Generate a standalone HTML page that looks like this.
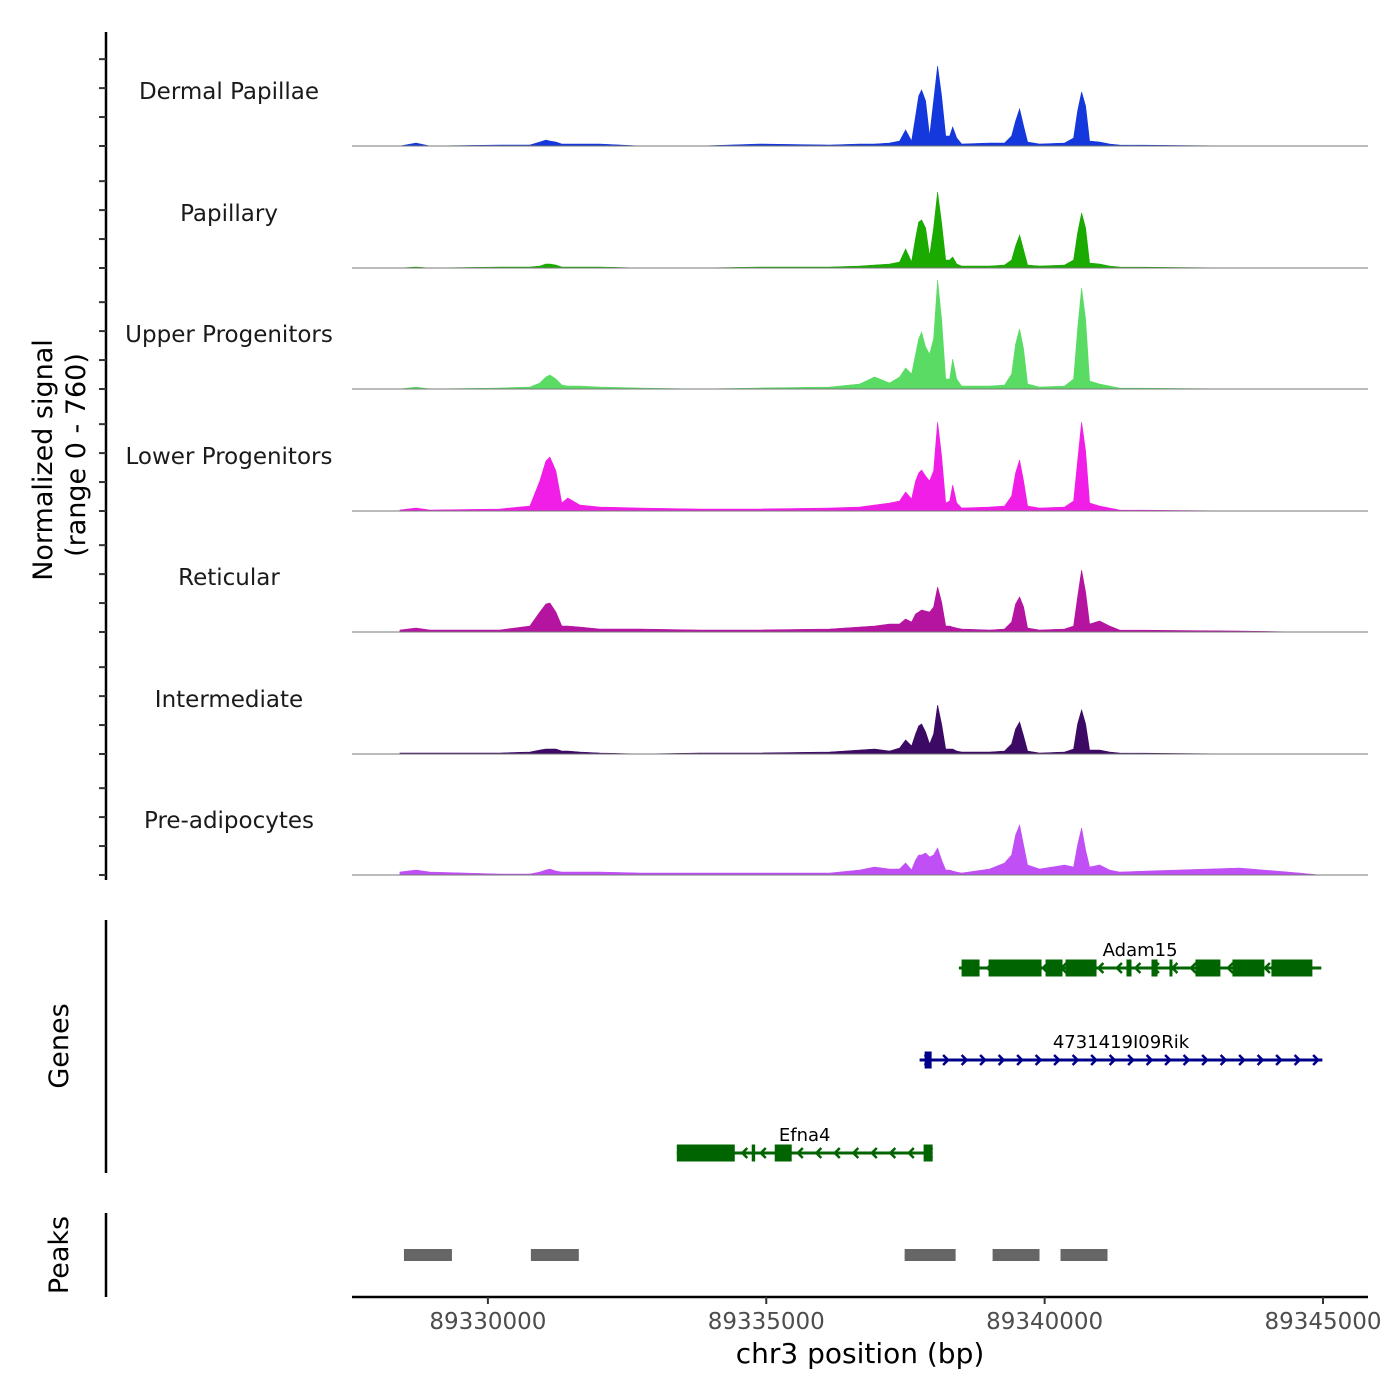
<!DOCTYPE html>
<html><head><meta charset="utf-8"><style>
body{margin:0;background:#fff}
svg{display:block;font-family:"DejaVu Sans","Liberation Sans",sans-serif}
</style></head><body>
<svg id="chart" width="1400" height="1400" viewBox="0 0 1400 1400" xmlns="http://www.w3.org/2000/svg">
<g id="tracks"></g>
<g id="yaxis"></g>
<text transform="translate(52,460) rotate(-90)" text-anchor="middle" font-size="27" fill="#000">Normalized signal</text>
<text transform="translate(85,455) rotate(-90)" text-anchor="middle" font-size="27" fill="#000">(range 0 - 760)</text>
<line x1="106" y1="920" x2="106" y2="1173" stroke="#000" stroke-width="2.5"/>
<text transform="translate(68,1046) rotate(-90)" text-anchor="middle" font-size="27">Genes</text>
<line x1="106" y1="1213" x2="106" y2="1297" stroke="#000" stroke-width="2.5"/>
<text transform="translate(68,1255) rotate(-90)" text-anchor="middle" font-size="27">Peaks</text>
<g id="genes"></g>
<g id="peaks"></g>
<g id="xaxis"></g>
<text x="860" y="1363" text-anchor="middle" font-size="28">chr3 position (bp)</text>
</svg>
<script>
// ---- data ----
const tickValues = [89330000, 89335000, 89340000, 89345000];
const tickLabels = ["89330000", "89335000", "89340000", "89345000"];
const trackNames = ["Dermal Papillae","Papillary","Upper Progenitors","Lower Progenitors","Reticular","Intermediate","Pre-adipocytes"];
const trackColors = ["#1438dc","#1aaa00","#5adc64","#f01ee6","#b414a0","#3c0a64","#c050f5"];
const positions = [89328420,89328708,89328959,89330215,89330754,89330933,89331041,89331113,89331221,89331328,89331436,89331651,89332010,89332728,89333805,89334882,89336139,89336677,89336946,89337216,89337395,89337503,89337611,89337683,89337737,89337790,89337862,89337934,89338006,89338078,89338150,89338222,89338294,89338348,89338420,89338509,89339012,89339281,89339407,89339479,89339551,89339622,89339694,89339910,89340359,89340520,89340592,89340664,89340736,89340808,89340987,89341166,89341346,89343500,89344577,89344936];
const sigDermal = [0,3,0,1,1,4,6,5,4,2,2,2,2,0,0,2,1,2,2,3,5,16,5,30,50,56,45,10,45,80,50,10,10,19,8,2,3,3,10,25,37,20,4,2,3,8,35,54,40,5,4,2,1,0,0,0];
const sigPapillary = [0,1,0,1,1,2,4,4,3,1,1,1,1,0,0,1,1,2,3,4,6,19,6,30,46,48,40,12,40,76,45,8,8,11,4,2,2,3,8,22,33,18,3,2,3,8,35,55,40,5,4,2,1,0,0,0];
const sigUpper = [0,2,0,1,2,6,12,14,10,4,3,3,2,1,0,1,2,5,12,6,12,21,15,35,50,57,42,35,50,109,70,10,10,30,10,3,3,4,15,45,60,40,5,2,3,10,60,101,70,8,5,3,1,0,0,0];
const sigLower = [1,3,1,2,5,30,50,54,40,8,13,6,4,3,2,2,3,4,6,8,10,19,12,30,38,41,35,30,40,89,55,8,10,26,8,3,4,5,15,38,51,30,5,3,4,10,50,89,60,8,5,3,1,0,0,0];
const sigReticular = [2,4,2,2,6,20,28,29,20,6,6,5,3,3,2,2,3,5,6,8,8,13,10,18,20,22,21,20,25,45,30,6,6,5,4,3,2,3,10,28,35,25,4,2,3,6,35,62,40,8,11,6,2,1,0,0];
const sigIntermediate = [1,1,1,1,2,4,5,5,5,3,3,2,1,0,1,1,2,4,5,3,6,14,8,20,28,30,22,10,20,49,30,5,5,5,3,2,2,3,10,25,32,18,3,1,2,5,30,44,30,4,4,2,1,0,0,0];
const sigPreadipo = [3,5,3,1,1,3,5,6,4,3,3,3,3,2,2,2,2,5,8,6,6,12,5,15,20,20,22,18,20,27,15,5,5,4,3,2,6,12,20,40,50,30,10,6,10,8,30,47,25,8,10,5,3,7,2,0];
const signals = [sigDermal,sigPapillary,sigUpper,sigLower,sigReticular,sigIntermediate,sigPreadipo];
const peakStarts = [89328492,89330772,89337485,89339065,89340285];
const peakEnds = [89329354,89331633,89338401,89339908,89341129];
const adamExonStarts = [89338508,89338993,89340016,89340375,89341470,89341919,89342242,89342709,89343373,89344073];
const adamExonEnds = [89338831,89339944,89340321,89340932,89341560,89342027,89342296,89343157,89343947,89344809];
const rikExonStarts = [89337844];
const rikExonEnds = [89337970];
const efnaExonStarts = [89333393,89334739,89335152,89337826];
const efnaExonEnds = [89334434,89334800,89335457,89337988];
const genes = [
 {name:"Adam15", start:89338460, end:89344970, strand:-1, color:"#006400", row:0, es:adamExonStarts, ee:adamExonEnds},
 {name:"4731419I09Rik", start:89337754, end:89344988, strand:1, color:"#00008b", row:1, es:rikExonStarts, ee:rikExonEnds},
 {name:"Efna4", start:89333393, end:89337988, strand:-1, color:"#006400", row:2, es:efnaExonStarts, ee:efnaExonEnds}
];
// ---- scales ----
const X0=352, X1=1368, D0=89327559, D1=89345808;
const xs = v => X0 + (v-D0)/(D1-D0)*(X1-X0);
const YMAX = 110, HPX = 110;
const ys = v => v/YMAX*HPX;
const baselines = [146,268,389,511,632,754,875];
const NS="http://www.w3.org/2000/svg";
function mk(tag, attrs, parent){const e=document.createElementNS(NS,tag);for(const k in attrs)e.setAttribute(k,attrs[k]);parent.appendChild(e);return e;}
const tracks=document.getElementById('tracks');
signals.forEach((sig,i)=>{
  const b=baselines[i];
  const g=mk('g',{},tracks);
  
  
  let d='M'+xs(positions[0]).toFixed(1)+','+b;
  sig.forEach((v,j)=>{d+=' L'+xs(positions[j]).toFixed(1)+','+(b-ys(v)).toFixed(1);});
  d+=' L'+xs(positions[positions.length-1]).toFixed(1)+','+b+' Z';
  const p=mk('path',{d:d,fill:trackColors[i],stroke:trackColors[i],'stroke-width':0.6},g);
  
  
  const l=mk('line',{x1:X0,x2:X1,y1:b,y2:b,stroke:'#777','stroke-width':1},g);
  
  
  const t=mk('text',{x:229,y:b-47,'text-anchor':'middle','font-size':23,fill:'#1a1a1a'},g);
  t.textContent=trackNames[i];
  
  
});
// y axis
const ya=document.getElementById('yaxis');
mk('line',{x1:106,x2:106,y1:32,y2:880,stroke:'#000','stroke-width':2.5},ya);
baselines.forEach(b=>{[0,200,400,600].forEach(v=>{
  const y=b-v*HPX/760;
  const tk=mk('line',{x1:99,x2:106,y1:y,y2:y,stroke:'#333','stroke-width':2},ya);
  
  
});});
// genes
const gg=document.getElementById('genes');
const rowY=[968,1060,1153];
genes.forEach(gn=>{
  const g=mk('g',{},gg);
  
  
  const y=rowY[gn.row], a=xs(gn.start), b=xs(gn.end);
  mk('line',{x1:a,x2:b,y1:y,y2:y,stroke:gn.color,'stroke-width':3},g);
  for(let x=a+10;x<b-2;x+=18.5){
    const s=gn.strand, h=5;
    mk('polyline',{points:(x-s*h)+','+(y-h)+' '+x+','+y+' '+(x-s*h)+','+(y+h),fill:'none',stroke:gn.color,'stroke-width':2.5},g);
  }
  gn.es.forEach((s,k)=>{
    const r=mk('rect',{x:xs(s),y:y-8.5,width:Math.max(2,xs(gn.ee[k])-xs(s)),height:17,fill:gn.color},g);
    
    
  });
  const t=mk('text',{x:(a+b)/2,y:y-12,'text-anchor':'middle','font-size':18,fill:'#000'},g);
  t.textContent=gn.name;
  
  
});
// peaks
const pg=document.getElementById('peaks');
peakStarts.forEach((s,k)=>{
  const r=mk('rect',{x:xs(s),y:1249,width:xs(peakEnds[k])-xs(s),height:12,fill:'#666'},pg);
  
  
});
// x axis
const xa=document.getElementById('xaxis');
mk('line',{x1:X0,x2:X1,y1:1297,y2:1297,stroke:'#000','stroke-width':2.5},xa);
tickValues.forEach((v,k)=>{
  const x=xs(v);
  const tk=mk('line',{x1:x,x2:x,y1:1297,y2:1304,stroke:'#333','stroke-width':2},xa);
  
  
  const t=mk('text',{x:x,y:1329,'text-anchor':'middle','font-size':23,fill:'#4d4d4d'},xa);
  t.textContent=tickLabels[k];
  
  
});
</script>
</body></html>
